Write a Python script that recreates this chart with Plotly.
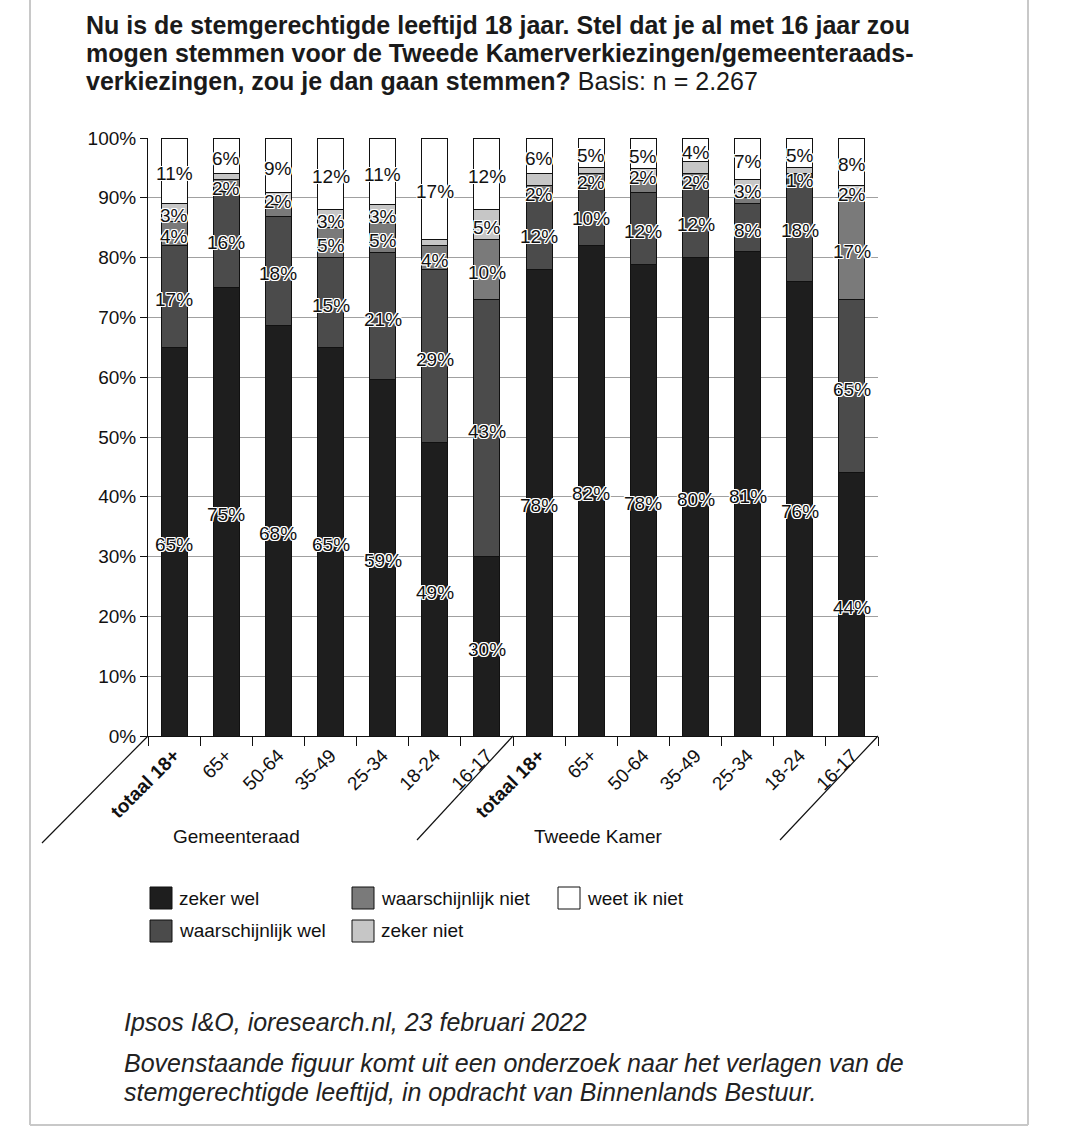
import plotly.graph_objects as go

# ---------------- data ----------------
groups = ["Gemeenteraad", "Tweede Kamer"]
age_groups = ["totaal 18+", "65+", "50-64", "35-49", "25-34", "18-24", "16-17"]
tick_labels = ["<b>totaal 18+</b>", "65+", "50-64", "35-49", "25-34", "18-24", "16-17"] * 2

series_names = ["zeker wel", "waarschijnlijk wel", "waarschijnlijk niet", "zeker niet", "weet ik niet"]

zeker_wel = [65, 75, 68, 65, 59, 49, 30, 78, 82, 78, 80, 81, 76, 44]
waarschijnlijk_wel = [17, 16, 18, 15, 21, 29, 43, 12, 10, 12, 12, 8, 18, 29]
waarschijnlijk_niet = [4, 2, 2, 5, 5, 4, 10, 2, 2, 2, 2, 1, 0, 17]
zeker_niet = [3, 1, 2, 3, 3, 1, 5, 2, 1, 2, 2, 3, 1, 2]
weet_niet = [11, 6, 9, 12, 11, 17, 12, 6, 5, 5, 4, 7, 5, 8]

# segment labels as printed in the source ("" = no label printed)
lbl_zeker_wel = ["65%", "75%", "68%", "65%", "59%", "49%", "30%",
                 "78%", "82%", "78%", "80%", "81%", "76%", "44%"]
lbl_waarschijnlijk_wel = ["17%", "16%", "18%", "15%", "21%", "29%", "43%",
                          "12%", "10%", "12%", "12%", "8%", "18%", "65%"]
lbl_waarschijnlijk_niet = ["4%", "2%", "", "5%", "5%", "4%", "10%",
                           "2%", "2%", "", "2%", "", "", "17%"]
lbl_zeker_niet = ["3%", "", "2%", "3%", "3%", "", "5%",
                  "", "", "2%", "", "3%", "1%", "2%"]
lbl_weet_niet = ["11%", "6%", "9%", "12%", "11%", "17%", "12%",
                 "6%", "5%", "5%", "4%", "7%", "5%", "8%"]

series_values = [zeker_wel, waarschijnlijk_wel, waarschijnlijk_niet, zeker_niet, weet_niet]
series_labels = [lbl_zeker_wel, lbl_waarschijnlijk_wel, lbl_waarschijnlijk_niet, lbl_zeker_niet, lbl_weet_niet]
colors = ["#1e1e1e", "#4b4b4b", "#7a7a7a", "#c6c6c6", "#ffffff"]

title_lines = [
    "<b>Nu is de stemgerechtigde leeftijd 18 jaar. Stel dat je al met 16 jaar zou</b>",
    "<b>mogen stemmen voor de Tweede Kamerverkiezingen/gemeenteraads-</b>",
    "<b>verkiezingen, zou je dan gaan stemmen?</b> Basis: n = 2.267",
]
footer_lines = [
    "<i>Ipsos I&O, ioresearch.nl, 23 februari 2022</i>",
    "<i>Bovenstaande figuur komt uit een onderzoek naar het verlagen van de</i>",
    "<i>stemgerechtigde leeftijd, in opdracht van Binnenlands Bestuur.</i>",
]

# ---------------- geometry helpers ----------------
W, H = 1071, 1136
L, R, T, B = 148, 193, 138, 400
PW, PH = W - L - R, H - T - B


def px(x):
    return (x - L) / PW


def py(y):
    return 1 - (y - T) / PH


FONT = "Liberation Sans, Arial, Helvetica, sans-serif"
n = len(zeker_wel)
xpos = list(range(n))

fig = go.Figure()
for name, vals, col in zip(series_names, series_values, colors):
    fig.add_trace(go.Bar(
        x=xpos, y=vals, name=name, marker=dict(color=col, line=dict(color="#111", width=1)),
        showlegend=False, hoverinfo="skip"))

# segment labels (midpoints of the normalised stacks)
halo = ("white 1px 1px 0px, white -1px -1px 0px, white 1px -1px 0px, white -1px 1px 0px, "
        "white 0px 1px 0px, white 0px -1px 0px, white 1px 0px 0px, white -1px 0px 0px")
label_nudge = {(3, 12): -7}  # extra pixel shift of a crowded label, as in the source
for i in range(n):
    total = sum(s[i] for s in series_values)
    cum = 0
    for k, (vals, lbls) in enumerate(zip(series_values, series_labels)):
        v = vals[i]
        mid = (cum + v / 2) / total * 100
        cum += v
        if lbls[i]:
            fig.add_annotation(x=i, y=mid, xref="x", yref="y", text=lbls[i], showarrow=False,
                               yshift=-3 + label_nudge.get((k, i), 0),
                               font=dict(family=FONT, size=19, color="#111", shadow=halo),
                               xanchor="center", yanchor="middle")

# group separator diagonals
for (x0, y0, x1, y1) in [(148, 736, 42, 843), (513, 736, 417, 840), (878, 736, 780, 840)]:
    fig.add_shape(type="line", xref="paper", yref="paper", x0=px(x0), y0=py(y0), x1=px(x1), y1=py(y1),
                  line=dict(color="#111", width=1.2))

# group labels
for gname, cx in zip(groups, [236, 598]):
    fig.add_annotation(x=px(cx), y=py(836), xref="paper", yref="paper", text=gname, showarrow=False,
                       font=dict(family=FONT, size=19, color="#111"), xanchor="center", yanchor="middle")

# legend (three columns, column-major like the source)
leg_pos = [(150, 898), (150, 931), (352, 898), (352, 931), (558, 898)]
for (lx, ly), name, col in zip(leg_pos, series_names, colors):
    fig.add_shape(type="rect", xref="paper", yref="paper",
                  x0=px(lx), x1=px(lx + 22), y0=py(ly - 11), y1=py(ly + 11),
                  fillcolor=col, line=dict(color="#111", width=1))
    fig.add_annotation(x=px(lx + 27), y=py(ly), xref="paper", yref="paper", text=name, showarrow=False,
                       font=dict(family=FONT, size=19, color="#111"), xanchor="left", yanchor="middle")

# title lines
for txt, ty in zip(title_lines, [25, 53, 81]):
    fig.add_annotation(x=px(84), y=py(ty), xref="paper", yref="paper", text=txt, showarrow=False,
                       font=dict(family=FONT, size=25, color="#1a1a1a"), xanchor="left", yanchor="middle")

# footer lines
for txt, ty in zip(footer_lines, [1022, 1063, 1092]):
    fig.add_annotation(x=px(122), y=py(ty), xref="paper", yref="paper", text=txt, showarrow=False,
                       font=dict(family=FONT, size=25, color="#222"), xanchor="left", yanchor="middle")

# light frame around the figure
frame = dict(color="#c8c8c8", width=2)
fig.add_shape(type="line", xref="paper", yref="paper", x0=px(30), x1=px(30), y0=py(-5), y1=py(1125), line=frame)
fig.add_shape(type="line", xref="paper", yref="paper", x0=px(1028), x1=px(1028), y0=py(-5), y1=py(1125), line=frame)
fig.add_shape(type="line", xref="paper", yref="paper", x0=px(30), x1=px(1028), y0=py(1125), y1=py(1125), line=frame)

fig.update_layout(
    width=W, height=H,
    margin=dict(l=L, r=R, t=T, b=B),
    paper_bgcolor="white", plot_bgcolor="white",
    barmode="stack", barnorm="percent", bargap=0.5,
    font=dict(family=FONT, color="#111"),
)
fig.update_xaxes(
    range=[-0.5, 13.5], tickmode="array", tickvals=xpos, ticktext=tick_labels,
    tickangle=-45, ticks="", showline=True, linecolor="#111", linewidth=1,
    showgrid=False, zeroline=False, tickfont=dict(family=FONT, size=19, color="#111"),
    minor=dict(tickmode="linear", tick0=0.5, dtick=1, ticks="outside", ticklen=9, tickcolor="#111", showgrid=False),
    fixedrange=True,
)
fig.update_yaxes(
    range=[0, 100], dtick=10, ticksuffix="%", ticks="outside", ticklen=7, tickcolor="#111",
    showline=True, linecolor="#111", linewidth=1, showgrid=True, gridcolor="#a0a0a0", gridwidth=1,
    zeroline=False, tickfont=dict(family=FONT, size=19, color="#111"), fixedrange=True,
)

fig.write_html("out.html", config={"displayModeBar": False},
               post_script="document.body.style.margin='0px';document.body.style.overflow='hidden';")
